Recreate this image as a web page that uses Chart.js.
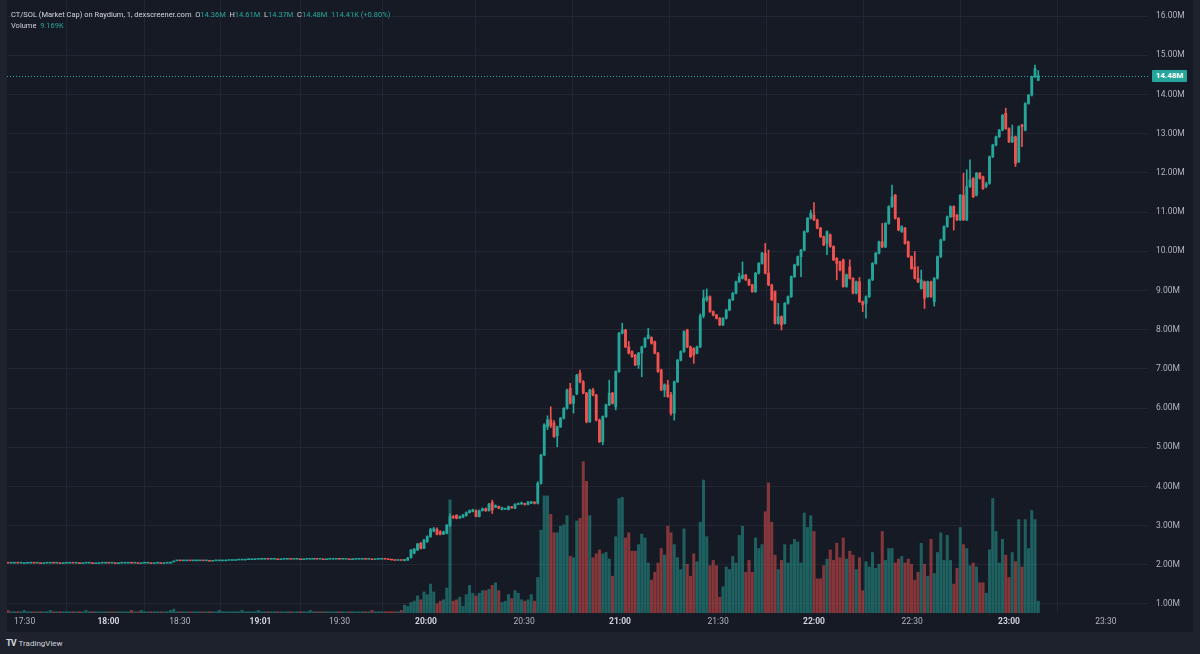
<!DOCTYPE html>
<html>
<head>
<meta charset="utf-8">
<script src="https://cdn.jsdelivr.net/npm/chart.js@4.4.1/dist/chart.umd.min.js"></script>
<style>
    html, body { margin: 0; padding: 0; }
    body { width: 1200px; height: 654px; background: #1e222d; overflow: hidden; position: relative; font-family: Roboto, "Liberation Sans", sans-serif; }
    #panel { position: absolute; left: 7px; top: 0; width: 1186px; height: 632px; background: #161a25; }
    #chart { position: absolute; left: 0; top: 0; }
    #legend { position: absolute; left: 4px; top: 9px; color: #d1d4dc; font-size: 7.5px; line-height: 11px; white-space: nowrap; }
    #legend .g { color: #26a69a; }
    #lastTag { position: absolute; left: 1145px; width: 35px; height: 12px; background: #26a69a; color: #fff; font-size: 8px; font-weight: bold; text-align: center; line-height: 12px; border-radius: 1px; }
    #logo { position: absolute; left: 6px; top: 637px; color: #d1d4dc; font-size: 8px; line-height: 12px; }
    #logo b { font-size: 9px; letter-spacing: -1px; margin-right: 3px; }
</style>
</head>
<body>
<div id="panel">
    <canvas id="chart" width="1186" height="632"></canvas>
    <div id="legend">
        <div>CT/SOL (Market Cap) on Raydium, 1, dexscreener.com&nbsp; O<span class="g">14.36M</span>&nbsp; H<span class="g">14.61M</span>&nbsp; L<span class="g">14.37M</span>&nbsp; C<span class="g">14.48M</span>&nbsp; <span class="g">114.41K (+0.80%)</span></div>
        <div>Volume&nbsp; <span class="g">9.169K</span></div>
    </div>
    <div id="lastTag">14.48M</div>
</div>
<div id="logo"><b>TV</b>TradingView</div>

<script>
// ================================================================
// DATA (price in M, volume in K, one bar per minute)
// ================================================================
const tickPos    = [5.1, 30.9, 52.9, 77.7, 102, 128.6, 158.8, 188.3, 218.5, 248, 278.2, 308, 337.8];
const tickLabels = ['17:30', '18:00', '18:30', '19:01', '19:30', '20:00', '20:30', '21:00', '21:30', '22:00', '22:30', '23:00', '23:30'];
const hourLabels = ['18:00', '19:01', '20:00', '21:00', '22:00', '23:00'];
const priceTicks = [1, 2, 3, 4, 5, 6, 7, 8, 9, 10, 11, 12, 13, 14, 15, 16];

// quiet period before launch (tiny bars)
const flatOpen = [
    2.05,2.04,2.04,2.05,2.04,2.03,2.04,2.04,2.05,2.04, 2.04,2.03,2.04,2.04,2.05,2.04,2.04,2.03,2.04,2.04,
    2.05,2.04,2.04,2.03,2.04,2.04,2.04,2.03,2.03,2.04, 2.04,2.05,2.04,2.04,2.03,2.04,2.04,2.04,2.05,2.04,
    2.04,2.03,2.04,2.04,2.04,2.03,2.04,2.04,2.03,2.04, 2.04,2.07,2.10,2.11,2.10,2.10,2.11,2.10,2.10,2.10,
    2.11,2.10,2.10,2.09,2.10,2.10,2.10,2.10,2.11,2.11, 2.11,2.12,2.12,2.12,2.13,2.13,2.13,2.14,2.14,2.14,
    2.15,2.14,2.14,2.14,2.13,2.14,2.14,2.15,2.14,2.14, 2.14,2.13,2.14,2.14,2.14,2.15,2.14,2.14,2.13,2.14,
    2.14,2.14,2.15,2.14,2.14,2.14,2.13,2.14,2.14,2.14, 2.15,2.14,2.14,2.13,2.14,2.14,2.15,2.14,2.13,2.12,
    2.11,2.12
];
const flatClose = [
    2.04,2.04,2.05,2.04,2.04,2.04,2.04,2.05,2.04,2.04, 2.03,2.04,2.04,2.05,2.04,2.04,2.03,2.04,2.04,2.04,
    2.04,2.04,2.03,2.04,2.04,2.04,2.03,2.03,2.04,2.04, 2.05,2.04,2.04,2.03,2.04,2.04,2.04,2.05,2.04,2.04,
    2.03,2.04,2.04,2.04,2.03,2.04,2.04,2.03,2.04,2.04, 2.07,2.10,2.11,2.10,2.10,2.11,2.10,2.10,2.10,2.11,
    2.10,2.10,2.09,2.10,2.10,2.10,2.10,2.11,2.11,2.11, 2.12,2.12,2.12,2.13,2.13,2.13,2.14,2.14,2.14,2.15,
    2.14,2.14,2.14,2.13,2.14,2.14,2.15,2.14,2.14,2.14, 2.13,2.14,2.14,2.14,2.15,2.14,2.14,2.13,2.14,2.14,
    2.14,2.15,2.14,2.14,2.14,2.13,2.14,2.14,2.14,2.15, 2.14,2.14,2.13,2.14,2.14,2.15,2.14,2.13,2.12,2.11,
    2.12,2.11
];
const flatVolume = [
    2,1,1,1,1,2,1,1,1,1, 1,1,1,2,1,1,1,1,1,1, 1,1,1,1,2,1,1,1,1,1, 1,1,1,1,1,1,1,1,2,1,
    1,2,1,1,1,1,1,1,1,1, 2,3,1,1,1,1,1,1,1,1, 1,1,1,1,1,2,1,1,1,1, 1,1,2,1,1,1,1,2,1,1,
    1,1,1,1,1,1,1,1,1,1, 1,1,1,2,1,1,1,1,1,1, 1,1,1,1,1,1,1,1,1,1, 1,1,2,1,1,1,1,1,1,1,
    1,2
];

// active trading from ~19:53
const opens = [
    2.11,2.12,2.18,2.30,2.38,2.55,2.42,2.59,2.72,2.86, 2.90,2.84,2.78,2.80,3.01,3.23,3.26,3.19,3.21,3.25,
    3.33,3.36,3.38,3.23,3.38,3.43,3.38,3.59,3.47,3.49, 3.41,3.42,3.41,3.48,3.44,3.54,3.55,3.56,3.54,3.57,
    3.60,3.57,4.08,4.80,5.52,5.70,5.62,5.29,5.52,5.74, 5.99,6.50,6.12,6.36,6.89,6.67,6.38,5.65,6.46,6.33,
    5.69,5.14,5.78,6.08,6.38,6.03,6.93,7.91,7.99,7.56, 7.44,7.35,7.10,7.40,7.56,7.78,7.80,7.69,7.40,6.97,
    6.46,6.59,6.33,5.87,6.67,7.22,7.44,7.99,7.56,7.52, 7.40,7.56,8.35,8.76,8.84,8.46,8.37,8.29,8.12,8.29,
    8.50,8.76,8.93,9.22,9.31,9.39,9.27,9.14,8.97,9.44, 9.69,9.95,9.44,9.14,8.97,8.16,8.33,8.16,8.67,8.84,
    9.35,9.65,9.86,10.03,10.50,10.84,10.92,10.80,10.59,10.37, 10.20,10.42,10.12,9.82,9.73,9.78,9.10,9.60,9.31,8.93,
    9.22,8.71,8.67,8.84,9.27,9.69,9.95,10.24,10.11,10.71, 11.14,11.43,10.84,10.50,10.59,10.24,9.86,9.60,9.31,9.05,
    9.22,8.84,9.22,8.71,9.31,9.86,10.29,10.63,10.88,11.14, 10.92,10.80,11.43,10.80,11.65,11.86,11.43,11.99,11.90,11.66,
    11.73,12.41,12.71,12.92,13.09,13.52,13.13,12.79,12.92,12.28, 13.22,13.09,13.77,13.98,14.45,14.36
];
const highs = [
    2.14,2.19,2.39,2.42,2.55,2.57,2.65,2.74,2.93,2.95, 2.94,2.87,2.86,3.03,3.30,3.26,3.28,3.25,3.29,3.35,
    3.40,3.42,3.40,3.40,3.45,3.45,3.57,3.65,3.53,3.50, 3.47,3.44,3.50,3.49,3.56,3.58,3.60,3.57,3.62,3.62,
    3.61,4.12,4.82,5.60,5.80,6.03,5.68,5.54,5.76,6.01, 6.48,6.63,6.32,6.86,6.97,6.70,6.40,6.48,6.50,6.35,
    5.72,5.80,6.10,6.71,6.40,6.95,7.93,8.16,8.01,7.70, 7.46,7.37,7.42,7.58,7.80,8.03,7.82,7.71,7.42,6.99,
    6.62,6.71,6.40,6.69,7.24,7.46,7.97,8.01,7.58,7.54, 7.58,8.40,9.01,9.04,8.86,8.48,8.39,8.31,8.31,8.52,
    8.78,8.95,9.24,9.44,9.73,9.41,9.29,9.16,9.46,9.71, 9.97,10.20,10.03,9.16,8.99,8.67,8.35,8.69,8.86,9.37,
    9.67,9.88,10.05,10.52,10.86,11.05,11.24,10.82,10.61,10.39, 10.52,10.44,10.14,9.84,9.75,9.80,9.42,9.78,9.33,9.24,
    9.33,8.73,8.86,9.29,9.71,9.97,10.26,10.71,10.73,11.16, 11.69,11.45,10.86,10.65,10.61,10.26,9.88,9.99,9.61,9.52,
    9.24,9.24,9.24,9.33,9.88,10.31,10.65,10.90,11.16,11.16, 10.94,11.45,11.99,12.08,12.33,11.88,12.01,12.01,11.92,11.76,
    12.43,12.73,12.94,13.11,13.49,13.65,13.15,13.22,12.94,13.20, 13.24,13.79,14.00,14.47,14.75,14.61
];
const lows = [
    2.10,2.11,2.17,2.28,2.36,2.40,2.41,2.57,2.70,2.84, 2.76,2.76,2.77,2.79,2.97,3.18,3.17,3.18,3.20,3.24,
    3.32,3.35,3.22,3.22,3.37,3.36,3.37,3.31,3.46,3.43, 3.40,3.41,3.40,3.44,3.43,3.53,3.54,3.52,3.53,3.56,
    3.55,3.55,4.06,4.78,5.45,5.50,5.25,5.01,5.50,5.72, 5.97,6.10,5.87,6.34,6.64,6.36,5.62,5.63,6.31,5.67,
    5.12,5.06,5.76,6.06,6.10,5.95,6.91,7.89,7.54,7.38, 7.29,7.08,7.01,6.80,7.54,7.76,7.63,7.38,6.91,6.44,
    6.29,6.27,5.82,5.69,6.65,7.20,7.42,7.54,7.29,7.14, 7.38,7.54,8.30,8.72,8.44,8.35,8.27,8.10,8.10,8.27,
    8.48,8.74,8.91,9.20,9.29,9.25,9.12,8.95,8.95,9.42, 9.67,9.42,9.12,8.74,8.14,8.14,7.99,8.14,8.65,8.82,
    9.33,9.63,9.35,10.01,10.48,10.82,10.78,10.57,10.35,10.14, 9.91,10.10,9.76,9.27,9.50,9.08,9.08,9.29,8.91,8.91,
    8.69,8.46,8.29,8.82,9.25,9.67,9.93,10.09,10.09,10.69, 11.12,10.82,10.52,10.48,10.18,9.84,9.54,9.29,9.20,9.03,
    8.54,8.82,8.82,8.60,9.29,9.84,10.27,10.61,10.86,10.54, 10.78,10.78,10.78,10.78,11.63,11.37,11.41,11.84,11.58,11.62,
    11.71,12.39,12.69,12.90,13.07,13.11,12.77,12.77,12.16,12.26, 12.67,13.07,13.75,13.96,14.43,14.35
];
const closes = [
    2.13,2.17,2.38,2.40,2.53,2.42,2.63,2.72,2.90,2.92, 2.78,2.78,2.84,3.01,3.23,3.20,3.19,3.23,3.27,3.33,
    3.38,3.40,3.23,3.38,3.43,3.38,3.55,3.40,3.51,3.44, 3.45,3.43,3.48,3.45,3.54,3.56,3.58,3.54,3.60,3.60,
    3.57,4.08,4.80,5.57,5.70,5.55,5.27,5.52,5.74,5.99, 6.46,6.12,6.29,6.84,6.67,6.38,5.65,6.46,6.33,5.69,
    5.14,5.78,6.08,6.38,6.12,6.93,7.91,7.99,7.56,7.40, 7.31,7.10,7.40,7.56,7.78,7.86,7.65,7.40,6.93,6.46,
    6.59,6.29,5.87,6.67,7.22,7.44,7.95,7.56,7.31,7.35, 7.56,8.35,8.80,8.84,8.46,8.37,8.29,8.12,8.29,8.50,
    8.76,8.93,9.22,9.35,9.39,9.27,9.14,8.97,9.44,9.69, 9.95,9.44,9.14,8.76,8.16,8.33,8.12,8.67,8.84,9.35,
    9.65,9.86,10.03,10.50,10.84,10.97,10.80,10.59,10.37,10.16, 10.50,10.12,9.78,9.69,9.52,9.10,9.40,9.31,8.93,9.22,
    8.71,8.63,8.84,9.27,9.69,9.95,10.24,10.11,10.71,11.14, 11.39,10.84,10.54,10.63,10.20,9.86,9.56,9.31,9.22,9.27,
    8.80,9.22,8.84,9.31,9.86,10.29,10.63,10.88,11.14,10.88, 10.80,11.43,10.80,11.65,11.82,11.39,11.99,11.86,11.60,11.72,
    12.41,12.71,12.92,13.09,13.47,13.13,12.79,12.92,12.24,13.18, 13.18,13.77,13.98,14.45,14.66,14.48
];
const volumes = [
    6,5,8,9,13,10,16,14,22,16, 7,9,10,19,86,9,10,12,5,14, 21,15,13,15,17,17,18,21,23,17,
    8,9,14,11,17,15,10,9,10,14, 9,27,63,89,89,75,61,61,66,67, 74,43,42,70,72,115,100,74,42,45,
    48,45,46,41,28,58,87,88,57,61, 47,47,52,60,57,38,25,31,38,49, 44,66,61,52,42,33,64,37,28,45,
    39,69,101,58,36,40,36,12,20,35, 33,43,38,59,66,31,40,31,57,49, 52,77,99,69,44,33,40,52,38,52,
    56,54,38,76,65,74,62,26,26,36, 41,48,40,53,42,57,41,47,44,33, 42,17,39,35,46,34,37,62,40,49,
    49,38,41,43,38,41,37,25,31,53, 37,28,56,30,46,61,40,59,40,22, 34,65,52,49,36,38,35,23,23,15,
    48,87,62,38,56,44,27,46,39,71, 35,71,49,78,71,9
];

// ================================================================
// CHART
// ================================================================
const UP = '#26a69a', DOWN = '#ef5350';
const UP_VOL = 'rgba(38,166,154,0.5)', DOWN_VOL = 'rgba(239,83,80,0.5)';
const GRID = '#222633';

const allOpen  = flatOpen.concat(opens);
const allClose = flatClose.concat(closes);
const allVol   = flatVolume.concat(volumes);
const start    = flatOpen.length;
const isUp     = allOpen.map((o, i) => allClose[i] >= o);
const lastClose = closes[closes.length - 1];

const bodyData = allOpen.map((o, i) => ({ x: i, y: [o, allClose[i]] }));
const wickData = opens.map((o, k) => ({ x: start + k, y: [lows[k], highs[k]] }));
const volData  = allVol.map((v, i) => ({ x: i, y: v }));

const lastLine = {
    id: 'lastLine',
    afterDatasetsDraw(chart) {
        const { ctx, chartArea: a, scales: { y } } = chart;
        const py = Math.round(y.getPixelForValue(lastClose)) + 0.5;
        ctx.save();
        ctx.strokeStyle = UP; ctx.lineWidth = 1; ctx.setLineDash([1, 2]);
        ctx.beginPath(); ctx.moveTo(a.left, py); ctx.lineTo(a.right, py); ctx.stroke();
        ctx.restore();
        document.getElementById('lastTag').style.top = (py - 6.5) + 'px';
    }
};

const tickFont = c => ({ family: 'Roboto', size: 8.5, weight: hourLabels.includes(tickLabels[c.index]) ? 'bold' : 'normal' });

new Chart(document.getElementById('chart').getContext('2d'), {
    type: 'bar',
    data: {
        datasets: [
            { data: bodyData, backgroundColor: isUp.map(u => u ? UP : DOWN), barThickness: 2.2, minBarLength: 1, grouped: false, order: 1, yAxisID: 'y' },
            { data: wickData, backgroundColor: opens.map((o, k) => closes[k] >= o ? UP : DOWN), barThickness: 1, grouped: false, order: 2, yAxisID: 'y' },
            { data: volData,  backgroundColor: isUp.map(u => u ? UP_VOL : DOWN_VOL), barThickness: 2.4, grouped: false, order: 3, yAxisID: 'yv' }
        ]
    },
    options: {
        responsive: false,
        animation: false,
        layout: { padding: 0 },
        plugins: { legend: { display: false }, tooltip: { enabled: false } },
        scales: {
            x: {
                type: 'linear', bounds: 'data', min: -0.31, max: 350.77, offset: false,
                afterBuildTicks: s => { s.ticks = tickPos.map(v => ({ value: v })); },
                afterFit: s => { s.height = 19; s.paddingLeft = 0; s.paddingRight = 0; },
                grid: { color: GRID, drawTicks: false },
                border: { display: false },
                ticks: {
                    padding: 4, maxRotation: 0, autoSkip: false,
                    color: c => hourLabels.includes(tickLabels[c.index]) ? '#d1d4dc' : '#b2b5be',
                    font: tickFont,
                    callback: (v, i) => tickLabels[i]
                }
            },
            y: {
                position: 'right', bounds: 'data', min: 0.77, max: 16.41,
                afterBuildTicks: s => { s.ticks = priceTicks.map(v => ({ value: v })); },
                afterFit: s => { s.width = 45; s.paddingTop = 0; s.paddingBottom = 0; },
                grid: { color: GRID, drawTicks: false },
                border: { display: false },
                ticks: { padding: 8, color: '#b2b5be', font: { family: 'Roboto', size: 8.5 }, callback: v => v.toFixed(2) + 'M' }
            },
            yv: { display: false, min: 0, max: 466 }
        }
    },
    plugins: [lastLine]
});
</script>
</body>
</html>
